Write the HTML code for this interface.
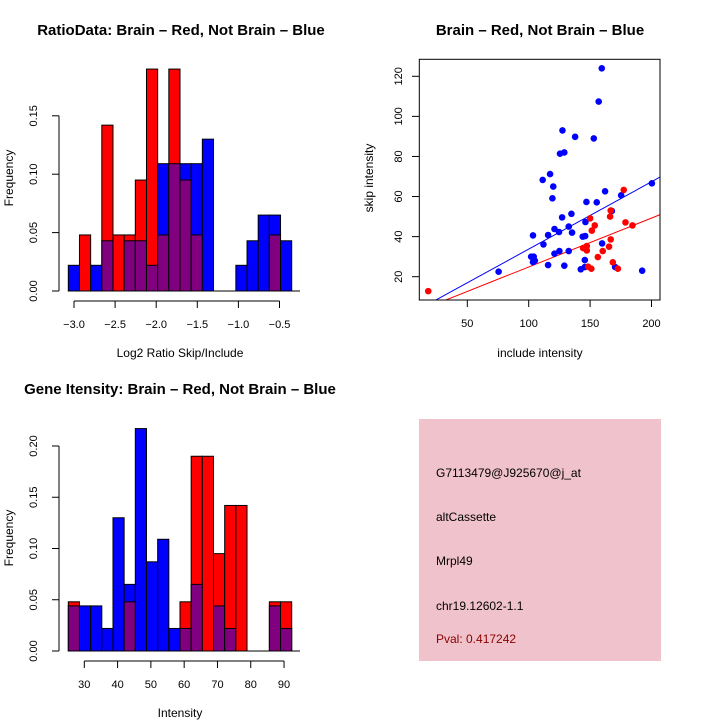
<!DOCTYPE html>
<html><head><meta charset="utf-8"><style>
body{margin:0;background:#fff}
svg{display:block;font-family:"Liberation Sans",sans-serif}
</style></head><body>
<svg id="s" width="720" height="720" viewBox="0 0 720 720" xmlns="http://www.w3.org/2000/svg">
<rect width="720" height="720" fill="#fff"/>
<text x="181" y="35" text-anchor="middle" font-size="15" font-weight="bold">RatioData: Brain – Red, Not Brain – Blue</text>
<text x="540" y="35" text-anchor="middle" font-size="15" font-weight="bold">Brain – Red, Not Brain – Blue</text>
<text x="180" y="394" text-anchor="middle" font-size="15" font-weight="bold">Gene Itensity: Brain – Red, Not Brain – Blue</text>
<text x="180" y="357" text-anchor="middle" font-size="12">Log2 Ratio Skip/Include</text>
<text x="540" y="357" text-anchor="middle" font-size="12">include intensity</text>
<text x="180" y="717" text-anchor="middle" font-size="12">Intensity</text>
<text transform="translate(13,178) rotate(-90)" text-anchor="middle" font-size="12">Frequency</text>
<text transform="translate(373,178) rotate(-90)" text-anchor="middle" font-size="12">skip intensity</text>
<text transform="translate(13,538) rotate(-90)" text-anchor="middle" font-size="12">Frequency</text>
<rect x="419" y="419" width="242" height="242" fill="#f0c2cc"/>
<g font-size="12">
<text x="436" y="477">G7113479@J925670@j_at</text>
<text x="436" y="521">altCassette</text>
<text x="436" y="565">Mrpl49</text>
<text x="436" y="610">chr19.12602-1.1</text>
<text x="436" y="643" fill="#8b0000">Pval: 0.417242</text>
</g>
</svg>
<script>
const ratioRed=[0,0.048,0,0.142,0.048,0.048,0.095,0.19,0.048,0.19,0.095,0.048,0,0,0,0,0,0,0.048,0];
const ratioBlue=[0.022,0,0.022,0.043,0,0.043,0.043,0.022,0.109,0.109,0.109,0.109,0.130,0,0,0.022,0.043,0.065,0.065,0.043];
const ratioTicksX=[-3.0,-2.5,-2.0,-1.5,-1.0,-0.5];
const ratioTicksY=[0,0.05,0.10,0.15];
const intRed=[0.048,0,0,0,0,0.048,0,0,0,0,0.048,0.19,0.19,0.095,0.142,0.142,0,0,0.048,0.048];
const intBlue=[0.044,0.044,0.044,0.022,0.130,0.065,0.217,0.087,0.109,0.022,0.022,0.065,0,0.044,0.022,0,0,0,0.044,0.022];
const intTicksX=[30,40,50,60,70,80,90];
const intTicksY=[0,0.05,0.10,0.15,0.20];
const blueX=[159.5,157,127.5,137.8,153,125.5,129,117.4,111.4,120,119.3,162.2,175.3,200.3,147,155.4,167.7,134.8,127.2,146.2,132.6,121,124.7,135.3,103.5,115.8,144,146,112,159.8,125,132.6,121,102,104.1,103.5,105,115.8,129,145.7,142.4,145.7,170.4,192.4,75.5];
const blueY=[124,107.4,93,89.8,89,81.4,82,71.2,68.3,65,59.1,62.6,60.6,66.6,57.3,57.1,52.8,51.4,49.6,47.3,45,43.8,42.3,42,40.6,40.8,40,40.3,36.1,36.6,32.8,32.8,31.5,30,30,27.3,28,25.8,25.5,28.3,23.7,24.8,24.8,23,22.5];
const redX=[18.2,150,166.3,166.8,177.4,178.8,184.5,153.8,151.4,166.8,147.3,144.3,147.3,160.3,165.4,156.3,168.5,148.4,151,172.6];
const redY=[12.8,49.1,50,53,63.3,47.1,45.6,45.6,43,38.6,35.3,34.3,33.1,32.8,35,29.8,27.2,25,24,24];
const fitBlue=[0.17,0.336];
const fitRed=[0.44,0.244];
const scatTicksX=[50,100,150,200];
const scatTicksY=[20,40,60,80,100,120];

const NS="http://www.w3.org/2000/svg";
const svg=document.getElementById('s');
function mk(tag,attrs,parent){const e=document.createElementNS(NS,tag);for(const k in attrs)e.setAttribute(k,attrs[k]);(parent||svg).appendChild(e);return e;}
function fmt(v,d){return v.toFixed(d).replace('-','\u2212');}

function hist(red,blue,x0,bw,x,y,ticksX,ticksY,dX,dY,axY,pre,name){
  const g=mk('g',{});
  
  
  red.forEach((r,i)=>{
    const b=blue[i];const left=x0+i*bw;
    const hi=Math.max(r,b),lo=Math.min(r,b);
    if(hi<=0)return;
    const c=r>=b?'#ff0000':'#0000ff';
    const e=mk('rect',{x:left,y:y(hi),width:bw,height:y(0)-y(hi),fill:c,stroke:'#000','stroke-width':1},g);
    
    
    if(lo>0){
      const p=mk('rect',{x:left,y:y(lo),width:bw,height:y(0)-y(lo),fill:'#800080',stroke:'#000','stroke-width':1},g);
      
      
    }
  });
  const ya=mk('g',{});
  
  
  mk('line',{x1:axY,x2:axY,y1:y(ticksY[0]),y2:y(ticksY[ticksY.length-1]),stroke:'#000'},ya);
  ticksY.forEach(t=>{
    mk('line',{x1:axY-7,x2:axY,y1:y(t),y2:y(t),stroke:'#000'},ya);
    const tx=mk('text',{transform:`translate(${axY-22},${y(t)}) rotate(-90)`,'text-anchor':'middle','font-size':11},ya);
    tx.textContent=fmt(t,dY);
    
    
  });
  const xa=mk('g',{});
  
  
  const ay=y(0)+10;
  mk('line',{x1:x(ticksX[0]),x2:x(ticksX[ticksX.length-1]),y1:ay,y2:ay,stroke:'#000'},xa);
  ticksX.forEach(t=>{
    mk('line',{x1:x(t),x2:x(t),y1:ay,y2:ay+7,stroke:'#000'},xa);
    const tx=mk('text',{x:x(t),y:ay+27,'text-anchor':'middle','font-size':11},xa);
    tx.textContent=fmt(t,dX);
    
    
  });
}
{
  const x=v=>74+(v+3.0)*82.2;
  const y=v=>291-v*1168;
  mk('line',{x1:68,x2:300,y1:291,y2:291,stroke:'#000'});
  hist(ratioRed,ratioBlue,68.3,11.17,x,y,ratioTicksX,ratioTicksY,1,2,59,'ratio','ratio-histogram');
}
{
  const x=v=>84.3+(v-30)*3.329;
  const y=v=>651-v*1025;
  mk('line',{x1:68,x2:300,y1:651,y2:651,stroke:'#000'});
  hist(intRed,intBlue,68.3,11.17,x,y,intTicksX,intTicksY,0,2,59,'intensity','intensity-histogram');
}
{
  const x=v=>467.3+(v-50)*1.228;
  const y=v=>276.7-(v-20)*2.004;
  const g=mk('g',{});
  
  
  const cp=mk('clipPath',{id:'cp'});
  mk('rect',{x:419.3,y:59.3,width:240.7,height:240.7},cp);
  const lines=mk('g',{'clip-path':'url(#cp)'},g);
  [[fitBlue,'#0000ff','blue-fit-line'],[fitRed,'#ff0000','red-fit-line']].forEach(([f,c,n])=>{
    const xa=0,xb=230;
    const l=mk('line',{x1:x(xa),y1:y(f[0]+f[1]*xa),x2:x(xb),y2:y(f[0]+f[1]*xb),stroke:c,'stroke-width':1},lines);
    
    
  });
  blueX.forEach((v,i)=>{
    const c=mk('circle',{cx:x(v),cy:y(blueY[i]),r:3.3,fill:'#0000ff'},g);
    
    
  });
  redX.forEach((v,i)=>{
    const c=mk('circle',{cx:x(v),cy:y(redY[i]),r:3.3,fill:'#ff0000'},g);
    
    
  });
  const box=mk('rect',{x:419.3,y:59.3,width:240.7,height:240.7,fill:'none',stroke:'#000'},g);
  
  
  scatTicksX.forEach(t=>{
    mk('line',{x1:x(t),x2:x(t),y1:300,y2:307,stroke:'#000'});
    const tx=mk('text',{x:x(t),y:327,'text-anchor':'middle','font-size':11});
    tx.textContent=t;
    
    
  });
  scatTicksY.forEach(t=>{
    mk('line',{x1:412,x2:419.3,y1:y(t),y2:y(t),stroke:'#000'});
    const tx=mk('text',{transform:`translate(402,${y(t)}) rotate(-90)`,'text-anchor':'middle','font-size':11});
    tx.textContent=t;
    
    
  });
}
</script>
</body></html>
